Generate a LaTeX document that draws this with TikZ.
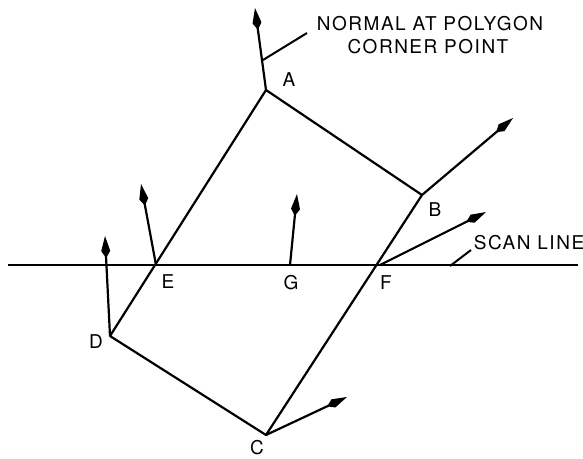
\documentclass[tikz,border=0pt]{standalone}
\usepackage{fontspec}
\setmainfont[LetterSpace=8]{TeX Gyre Heros}
\usetikzlibrary{arrows.meta}
\begin{document}
\begin{tikzpicture}[x=1pt,y=-1pt,
  edge/.style={line width=2.2pt,line join=round},
  normal/.style={line width=2.2pt,-{Kite[length=22pt,width=9pt,inset=7pt]}},
  lbl/.style={font=\fontsize{19}{23}\selectfont,inner sep=0pt},
  thin/.style={line width=2pt}]
\useasboundingbox (0,0) rectangle (583,458);
\coordinate (A) at (266,90);
\coordinate (B) at (422,195);
\coordinate (C) at (266,435);
\coordinate (D) at (110,336);
\coordinate (E) at (156,265);
\coordinate (F) at (380,265);
\coordinate (G) at (290,265);
\coordinate (SL) at (8,265);
\coordinate (SR) at (578,265);
% polygon
\draw[edge] (A) -- (B) -- (C) -- (D) -- cycle;
% scan line
\draw[thin] (SL) -- (SR);
% normals
\coordinate (nA) at (255,8);
\coordinate (nB) at (513,118);
\coordinate (nC) at (347,397);
\coordinate (nD) at (105,236);
\coordinate (nE) at (141,184);
\coordinate (nF) at (486,212);
\coordinate (nG) at (297,194);
\draw[normal] (A) -- (nA);
\draw[normal] (B) -- (nB);
\draw[normal] (C) -- (nC);
\draw[normal] (D) -- (nD);
\draw[normal] (E) -- (nE);
\draw[normal] (F) -- (nF);
\draw[normal] (G) -- (nG);
% leaders
\coordinate (la1) at (263,60);
\coordinate (la2) at (307,33);
\draw[thin] (la1) -- (la2);
\coordinate (ls1) at (450,266);
\coordinate (ls2) at (471,250);
\draw[thin] (ls1) -- (ls2);
% labels
\node[lbl] (tA) at (289,80) {A};
\node[lbl] (tB) at (435,210) {B};
\node[lbl] (tC) at (257,448) {C};
\node[lbl] (tD) at (96,342) {D};
\node[lbl] (tE) at (168,282) {E};
\node[lbl] (tG) at (291,283) {G};
\node[lbl] (tF) at (386,283) {F};
\node[lbl] (tN1) at (430,24) {NORMAL AT POLYGON};
\node[lbl] (tN2) at (428,47) {CORNER POINT};
\node[lbl] (tS) at (529,243) {SCAN LINE};
\end{tikzpicture}
\end{document}
